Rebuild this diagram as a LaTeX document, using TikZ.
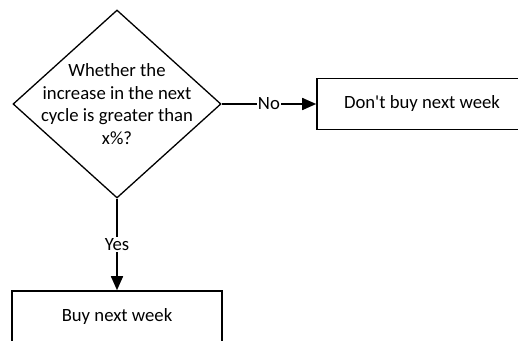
\documentclass[tikz,border=0pt]{standalone}
\usepackage{fontspec}
\setmainfont{Carlito}
\usetikzlibrary{shapes.geometric,arrows.meta}

\begin{document}
\begin{tikzpicture}[x=1pt,y=-1pt,
  font=\fontsize{18.7}{22.7}\selectfont,
  decision node/.style={diamond,draw,line width=1.3pt,minimum width=208pt,minimum height=188pt,inner sep=0pt},
  action node/.style={rectangle,draw,line width=1.6pt,minimum width=210pt,minimum height=51pt,inner sep=0pt},
  flow/.style={line width=1.6pt,-{Triangle[length=14pt,width=12pt]}},
  answer/.style={fill=white,inner sep=1pt}]
  \path[use as bounding box,clip] (0,0) rectangle (518,340);
  \path (117,104) node[decision node,label={[align=center]center:Whether the\\increase in the next\\cycle is greater than\\x\%?}] (q) {}
        (422,104) node[action node] (no) {Don\textquotesingle t buy next week}
        (117,316.5) node[action node] (yes) {Buy next week};

  \path[flow]
        (q) edge node[answer] {No} (no)
        (q) edge node[answer] {Yes} (yes);
\end{tikzpicture}
\end{document}
